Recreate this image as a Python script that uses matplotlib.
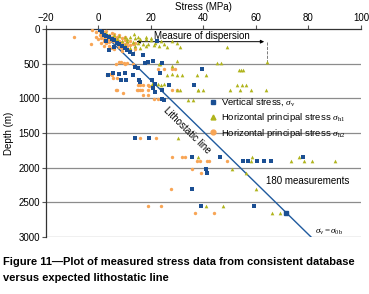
import matplotlib
matplotlib.use("Agg")
import matplotlib.pyplot as plt
from matplotlib.lines import Line2D

plt.rcParams['font.family'] = ['Liberation Sans', 'DejaVu Sans']
plt.rcParams['mathtext.fontset'] = 'custom'
plt.rcParams['mathtext.rm'] = 'Liberation Serif'
plt.rcParams['mathtext.it'] = 'Liberation Serif:italic'

# vertical stress sigma_v  (stress MPa, depth m)
sv_stress = [0.5, 1.5, 2, 3, 4, 5, 6, 3, 7, 8, 4, 6, 9, 10, 22.4, 11, 12, 13, 17, 19, 20.6, 24.3, 17.9, 14, 15.2,
             3.8, 5.7, 8, 10, 13, 23.6, 39.5, 8.4, 10.5, 15.4, 16, 20.5, 21.7, 26.7, 36.3, 20.6, 21.7, 24.3, 24.3, 25,
             14.1, 19.2, 35.6, 46.4, 77.8, 55, 56.9, 60.3, 63, 65.6, 40.8, 41.3, 35.6, 38.9, 59.2, 71.6]
sv_depth = [20, 50, 80, 100, 120, 140, 160, 170, 200, 220, 300, 260, 250, 280, 168, 300, 330, 360, 380, 470, 460, 485, 490, 550, 560,
            660, 640, 650, 640, 660, 640, 580, 735, 730, 730, 760, 730, 800, 808, 808, 850, 910, 880, 1010, 1030,
            1577, 1577, 1852, 1852, 1852, 1905, 1905, 1905, 1905, 1905, 2020, 2073, 2304, 2550, 2550, 2650]

# horizontal principal stress sigma_h1
sh1_stress = [1, 3, 4, 6, 8, 10, 12, 13.5, 14, 16, 18, 20, 22, 24, 21.7, 26, 31.2, 49, 5, 7, 9, 11, 13, 15, 17, 19,
              21, 10, 14, 18, 23, 12, 16, 28, 30, 25, 8, 11, 15, 18, 20,
              30, 45.2, 46.5, 64.2, 23, 23.6, 28, 53.4, 54.2, 55, 26, 28, 30, 32, 37.6, 40.8, 24, 52.8, 54.6, 56.4,
              20.5, 22.5, 25, 38, 40, 30, 31.2, 37.8, 50.3, 54.1, 58.3, 63.9, 34.3, 36.2,
              30.2, 37.8, 58.4, 58.2, 73.5, 78.4, 81.3, 90, 76.6, 50.8, 56.1, 60.2, 40.9, 47.5, 66.2, 69.1]
sh1_depth = [30, 60, 80, 90, 100, 110, 120, 77, 130, 140, 150, 160, 170, 180, 205, 260, 255, 255, 130, 150, 170, 180, 190, 200, 210, 220,
             230, 230, 250, 240, 250, 270, 280, 170, 200, 220, 200, 140, 110, 120, 130,
             462, 495, 495, 470, 510, 500, 530, 592, 592, 592, 660, 650, 660, 660, 660, 660, 808, 808, 808, 808,
             800, 800, 800, 880, 880, 880, 880, 880, 880, 880, 880, 880, 1025, 1025,
             1577, 1852, 1852, 1905, 1905, 1905, 1905, 1905, 1852, 2020, 2073, 2304, 2550, 2550, 2650, 2650]

# horizontal principal stress sigma_h2
sh2_stress = [-2.5, -1, 0.5, 1, 2, 3, 1.5, 2.5, 4, 5, 3.5, 6, 4.5, 7, 5.5, 8, 6.5, 9, 7.5, 10, 3, 2, -3, -9.4, 4, 6, 8, 11,
              12, 5, 9, 0, 1, 2, 10, 11, 12, 13, 14, 7, 8, 6, 5, 3, 9, 10, 4, 1, 0.5, -1, 2, 6, 9, 12, 14,
              6.5, 7.7, 8.6, 9.6, 10, 11, 13, 28, 29.3, 22.5, 24.8, 3.4, 5.3, 4.5, 5.7, 7.2, 6.5, 7.2, 15.2, 16, 17,
              15, 16, 9.5, 18.7, 19.4, 28, 30, 14.8, 16.5, 18.7, 21, 22.5, 17, 19,
              15.7, 22, 28.1, 31.9, 33.1, 37.6, 38.6, 41.4, 42.3, 49, 35.6, 39, 27.7, 18.7, 24, 36.8, 44.1]
sh2_depth = [20, 40, 30, 60, 50, 80, 100, 120, 90, 110, 140, 130, 160, 150, 180, 170, 200, 190, 220, 210, 200, 180, 215, 120, 240, 250, 260, 240,
             230, 270, 280, 150, 130, 240, 160, 200, 180, 210, 200, 110, 90, 70, 55, 35, 130, 120, 190, 200, 90, 110, 150, 290, 320, 300, 290,
             500, 472, 472, 486, 510, 495, 505, 582, 582, 582, 582, 660, 660, 650, 710, 710, 880, 880, 808, 808, 808,
             880, 880, 925, 808, 825, 880, 880, 880, 880, 880, 1010, 1010, 950, 950,
             1577, 1577, 1852, 1852, 1852, 1905, 1905, 1905, 1905, 1905, 2020, 2073, 2304, 2550, 2550, 2650, 2650]

# lithostatic gradient line (stress MPa, depth m)
litho_depth = [0, 3000]
litho_stress = [0, 81]

blue = '#1b4f93'
olive = '#b0b41c'
orange = '#f8a555'

fig = plt.figure(figsize=(3.69, 2.94), dpi=100)
ax = fig.add_axes([0.1247, 0.194, 0.8533, 0.7074])

ax.plot(litho_stress, litho_depth, color='#1f5a9e', lw=1.0, zorder=3)
ax.scatter(sh2_stress, sh2_depth, marker='o', s=6, color=orange, lw=0, zorder=4)
ax.scatter(sh1_stress, sh1_depth, marker='^', s=7, color=olive, lw=0, zorder=4)
ax.scatter(sv_stress, sv_depth, marker='s', s=6, color=blue, lw=0, zorder=5)
ax.plot([71.6], [2650], marker='s', ms=3.5, color=blue, zorder=6)

ax.set_xlim(-20, 100)
ax.set_ylim(3000, 0)
ax.set_xticks(range(-20, 101, 20))
ax.set_yticks(range(0, 3001, 500))
ax.xaxis.tick_top()
ax.xaxis.set_label_position('top')
ax.tick_params(labelsize=7, length=3, width=0.8, color='#555555', pad=1.5)
ax.set_xlabel('Stress (MPa)', fontsize=7, labelpad=2)
ax.set_ylabel('Depth (m)', fontsize=7, labelpad=3)

for d in range(500, 3001, 500):
    ax.axhline(d, color='#8c8c8c', lw=0.9, zorder=1)
ax.spines['right'].set_visible(False)
ax.spines['bottom'].set_visible(False)
ax.spines['top'].set_color('#333333')
ax.spines['left'].set_color('#333333')
ax.spines['top'].set_linewidth(0.9)
ax.spines['left'].set_linewidth(0.9)

# measure of dispersion
ax.annotate('', xy=(13.4, 183), xytext=(64.2, 183),
            arrowprops=dict(arrowstyle='<|-|>', color='black', lw=0.7, mutation_scale=5))
ax.plot([13.4, 13.4], [183, 375], ls='--', color='#666666', lw=0.6)
ax.plot([64.2, 64.2], [183, 495], ls='--', color='#666666', lw=0.6)
ax.text(39.5, 95, 'Measure of dispersion', fontsize=7, ha='center', va='center')

ax.text(33.9, 1457, 'Lithostatic line', fontsize=7, ha='center', va='center', rotation=-44.5)
ax.text(79.8, 2193, '180 measurements', fontsize=7, ha='center', va='center')
ax.text(87.8, 2925, r'$\sigma_\mathrm{v} = \sigma_\mathrm{0b}$', fontsize=6.5, ha='center', va='center')

handles = [
    Line2D([], [], marker='s', ls='', color=blue, ms=3),
    Line2D([], [], marker='^', ls='', color=olive, ms=3.5),
    Line2D([], [], marker='o', ls='', color=orange, ms=3.5),
]
labels = [r'Vertical stress, $\sigma_\mathrm{v}$',
          r'Horizontal principal stress $\sigma_\mathrm{h1}$',
          r'Horizontal principal stress $\sigma_\mathrm{h2}$']
ax.legend(handles, labels, loc='upper left', bbox_to_anchor=(209 / 369, 1 - 97 / 294),
          bbox_transform=fig.transFigure, frameon=False, fontsize=6.8,
          handlelength=0.8, handletextpad=0.5, labelspacing=0.28, borderpad=0, borderaxespad=0)

fig.text(0.008, 1 - 262 / 294, 'Figure 11\u2014Plot of measured stress data from consistent database',
         fontsize=8, fontweight='bold', va='center', ha='left')
fig.text(0.008, 1 - 278 / 294, 'versus expected lithostatic line',
         fontsize=8, fontweight='bold', va='center', ha='left')

fig.savefig('out.png', dpi=100)
